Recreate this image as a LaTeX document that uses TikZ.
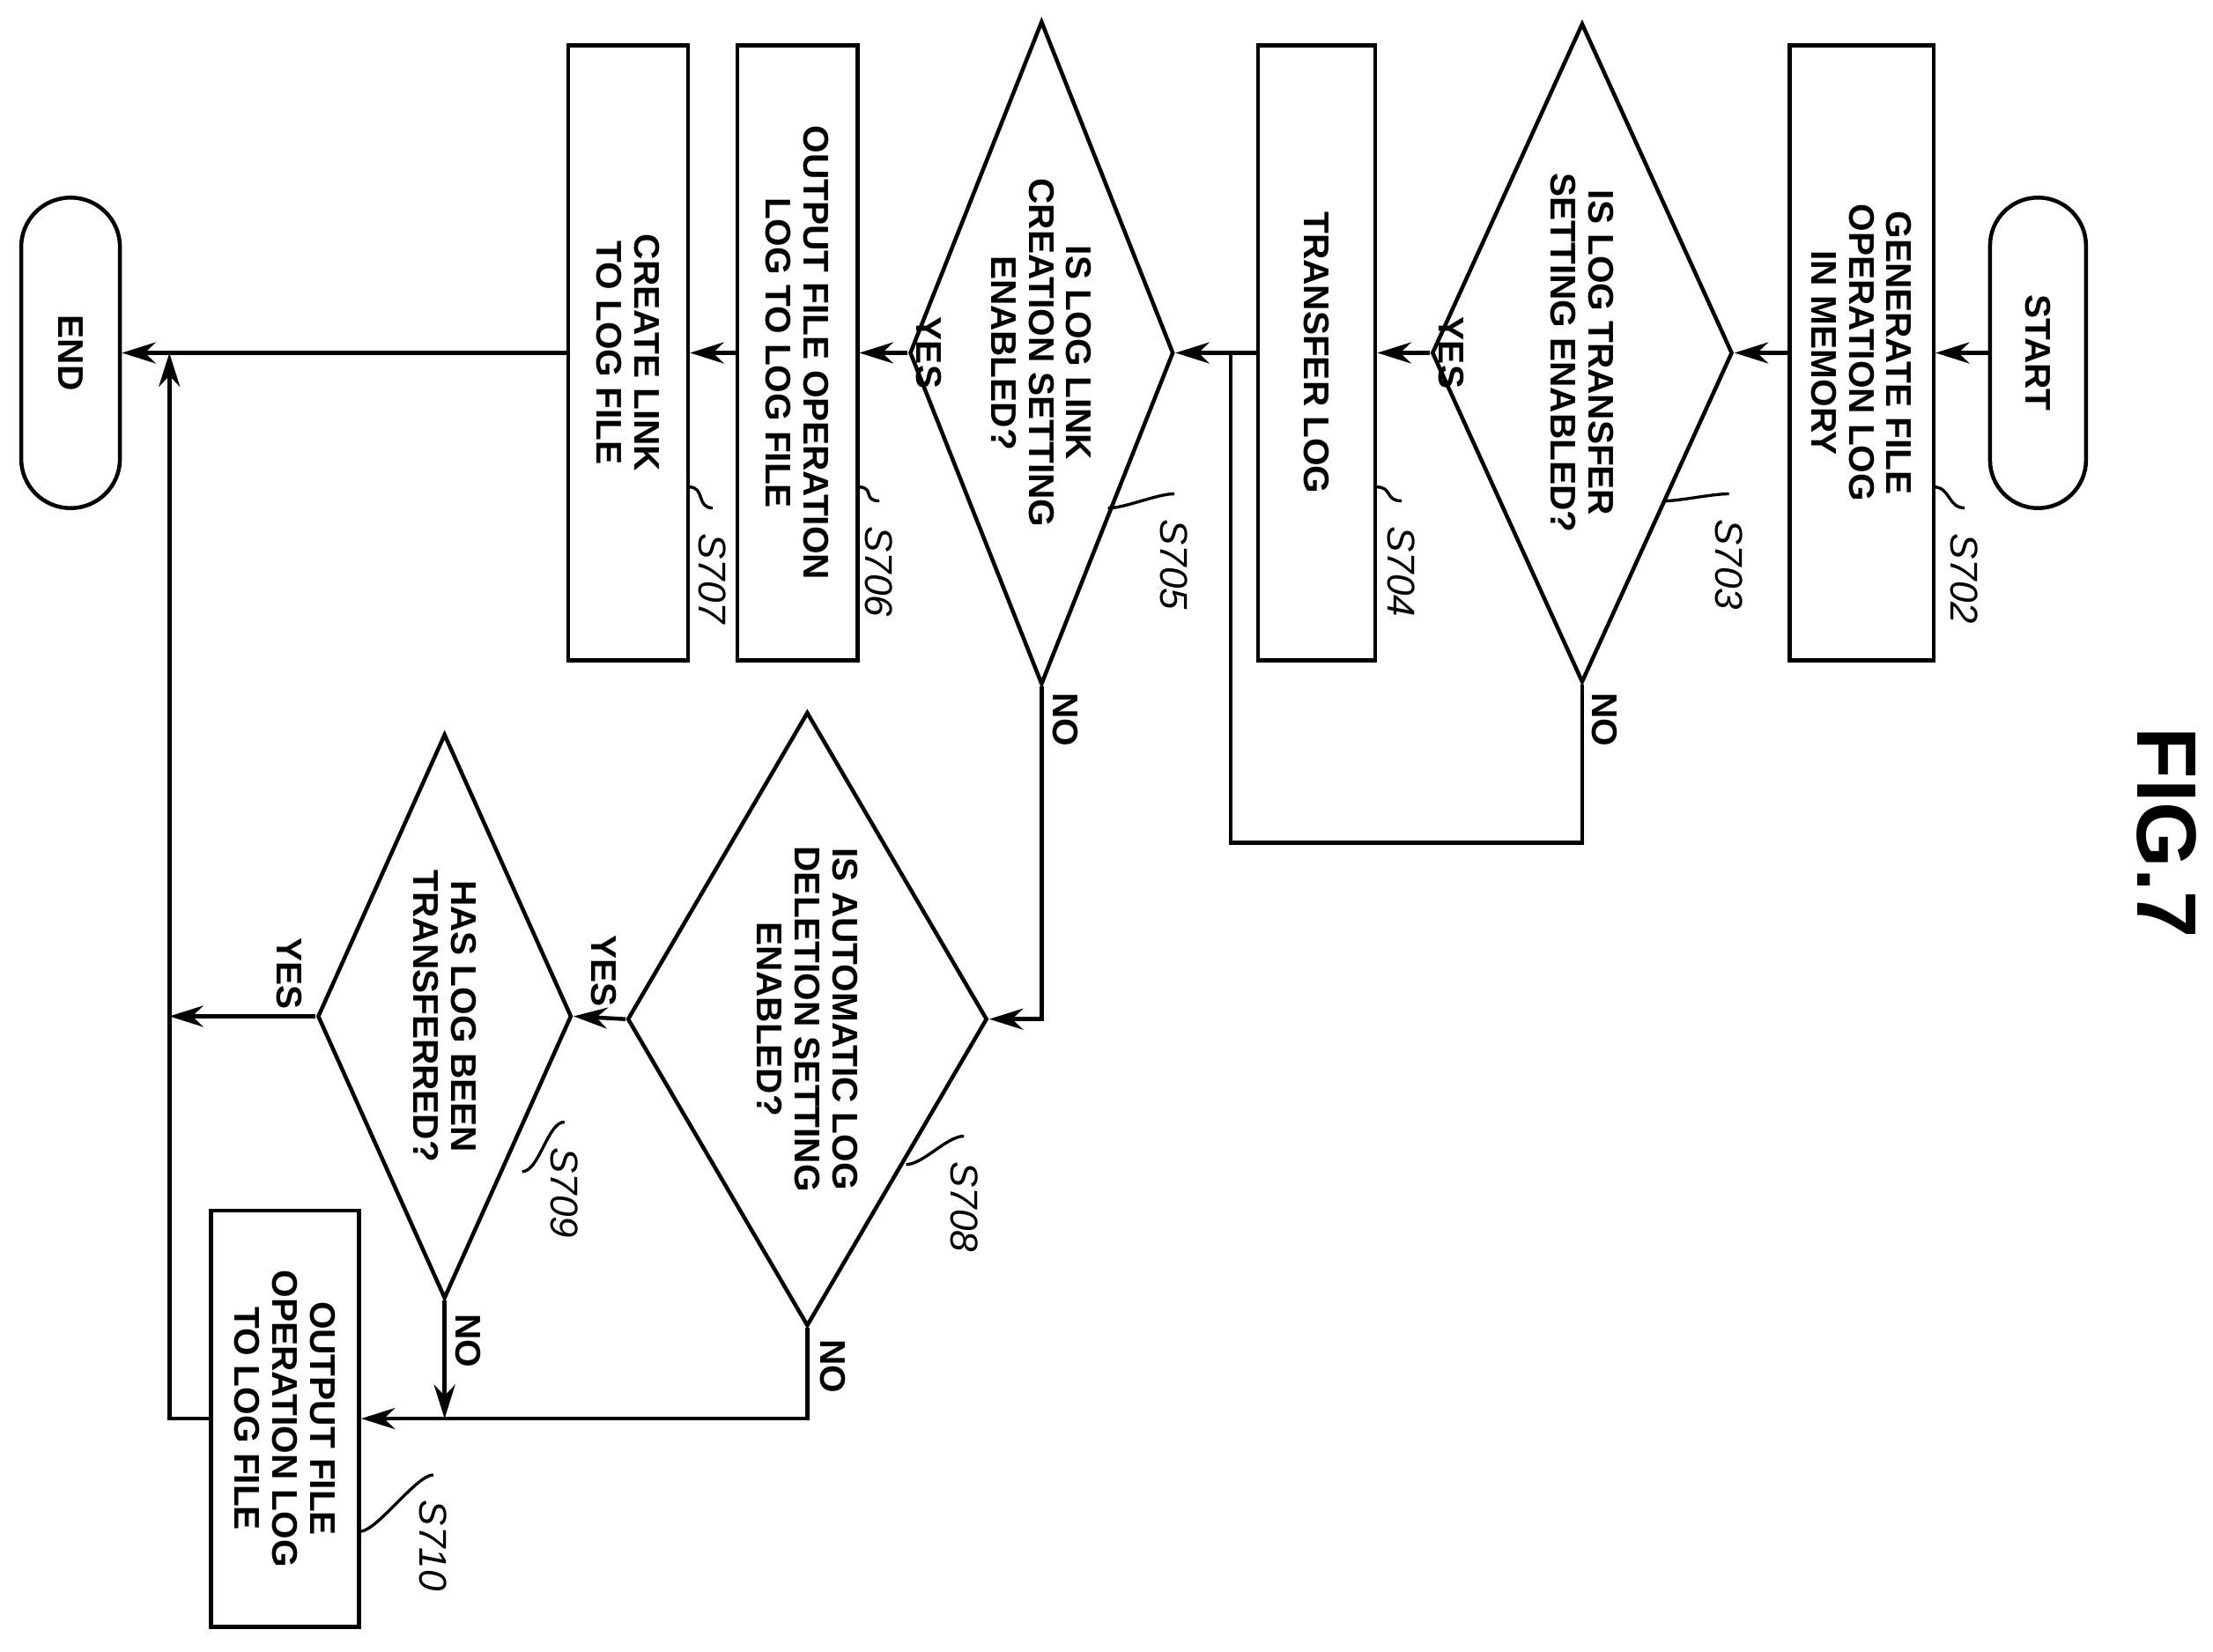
\documentclass[tikz,border=0pt]{standalone}
\usepackage{fontspec}
\setmainfont{Liberation Sans}
\usetikzlibrary{shapes.geometric,shapes.misc,arrows.meta,calc}

\begin{document}
\begin{tikzpicture}[line width=0.8pt,
  >={Stealth[length=2.4mm,width=1.5mm]},
  every node/.style={font=\fontsize{7.2}{7.6}\selectfont\bfseries},
  box/.style={draw, rectangle, rotate=-90, align=center, inner sep=0pt},
  term/.style={draw, rounded rectangle, rotate=-90, inner sep=0pt},
  dec/.style={draw, diamond, rotate=-90, align=center, inner sep=0pt},
  steplbl/.style={rotate=-90, font=\fontsize{7.8}{8}\selectfont\itshape},
  yn/.style={rotate=-90}]
\useasboundingbox (0,0) rectangle (15.68,-11.7);
% main column
\node (start) [term, minimum width=2.2cm, minimum height=0.68cm] at (14.44,-2.5) {START};
\node (s702) [box, minimum width=4.36cm, minimum height=1.02cm] at (13.19,-2.5) {GENERATE FILE\\OPERATION LOG\\IN MEMORY};
\node (s703) [dec, minimum width=4.67cm, minimum height=2.13cm, aspect=2.2] at (11.21,-2.5) {IS LOG TRANSFER\\SETTING ENABLED?};
\node (s704) [box, minimum width=4.36cm, minimum height=0.83cm] at (9.33,-2.5) {TRANSFER LOG};
\node (s705) [dec, minimum width=4.7cm, minimum height=1.87cm, aspect=2.5] at (7.38,-2.5) {IS LOG LINK\\CREATION SETTING\\ENABLED?};
\node (s706) [box, minimum width=4.36cm, minimum height=0.85cm] at (5.65,-2.5) {OUTPUT FILE OPERATION\\LOG TO LOG FILE};
\node (s707) [box, minimum width=4.36cm, minimum height=0.85cm] at (4.45,-2.5) {CREATE LINK\\TO LOG FILE};
\node (end) [term, minimum width=2.2cm, minimum height=0.7cm] at (0.5,-2.5) {END};
% lower branch
\node (s708) [dec, minimum width=4.35cm, minimum height=2.55cm, aspect=1.7] at (5.72,-7.22) {IS AUTOMATIC LOG\\DELETION SETTING\\ENABLED?};
\node (s709) [dec, minimum width=4.0cm, minimum height=1.8cm, aspect=2.2] at (3.15,-7.2) {HAS LOG BEEN\\TRANSFERRED?};
\node (s710) [box, minimum width=2.95cm, minimum height=1.05cm] at (2.02,-10.05) {OUTPUT FILE\\OPERATION LOG\\TO LOG FILE};
\node (fig) [rotate=-90, font=\fontsize{17}{17}\selectfont\bfseries] at (15.35,-5.9) {FIG.7};

% step labels
\node (l702) [steplbl] at (13.92,-4.1) {S702};
\node (l703) [steplbl] at (12.25,-4.0) {S703};
\node (l704) [steplbl] at (9.93,-4.05) {S704};
\node (l705) [steplbl] at (8.32,-4.0) {S705};
\node (l706) [steplbl] at (6.23,-4.05) {S706};
\node (l707) [steplbl] at (5.05,-4.1) {S707};
\node (l708) [steplbl] at (6.83,-8.55) {S708};
\node (l709) [steplbl] at (4.0,-8.45) {S709};
\node (l710) [steplbl] at (3.07,-10.95) {S710};
\foreach \x/\y/\l in {13.70/-3.45/l702, 11.78/-3.55/l703, 9.75/-3.45/l704, 7.85/-3.6/l705,
  6.08/-3.45/l706, 4.88/-3.45/l707, 6.42/-8.25/l708, 3.70/-8.3/l709, 2.55/-10.85/l710}
  \draw[line width=0.6pt] (\x,\y) .. controls +(0.12,0) and +(-0.12,0) .. ($(\l.west)+(0,0.05)$);

% connectors
\coordinate (j1) at (8.72,-2.5);
\coordinate (j2) at (1.20,-7.2);
\coordinate (j3) at (1.20,-2.5);
\draw[->] (start.south) -- (s702.north);
\draw[->] (s702.south) -- (s703.north);
\draw[->] (s703.south) -- (s704.north) node[yn, pos=0.45, above=1mm] {YES};
\draw[->] (s704.south) -- (s705.north);
\draw (s703.east) -- ++(0,-1.12) -| (j1);
\node[yn] at (11.37,-5.1) {NO};
\draw[->] (s705.south) -- (s706.north) node[yn, pos=0.5, above=1mm] {YES};
\draw[->] (s706.south) -- (s707.north);
\draw[->] (s707.south) -- (end.north);
\draw[->] (s705.east) |- (s708.north);
\node[yn] at (7.55,-5.1) {NO};
\draw[->] (s708.south) -- (s709.north);
\node[yn] at (4.28,-6.88) {YES};
\draw[->] (s709.south) -- (j2);
\node[yn] at (2.05,-6.9) {YES};
\draw[->] (s710.south) -| (j3);
\draw[->] (s708.east) |- (s710.north);
\node[yn] at (5.9,-9.68) {NO};
\draw[->] (s709.east) -- (s709.east |- s710.north);
\node[yn] at (3.32,-9.5) {NO};
\end{tikzpicture}
\end{document}
